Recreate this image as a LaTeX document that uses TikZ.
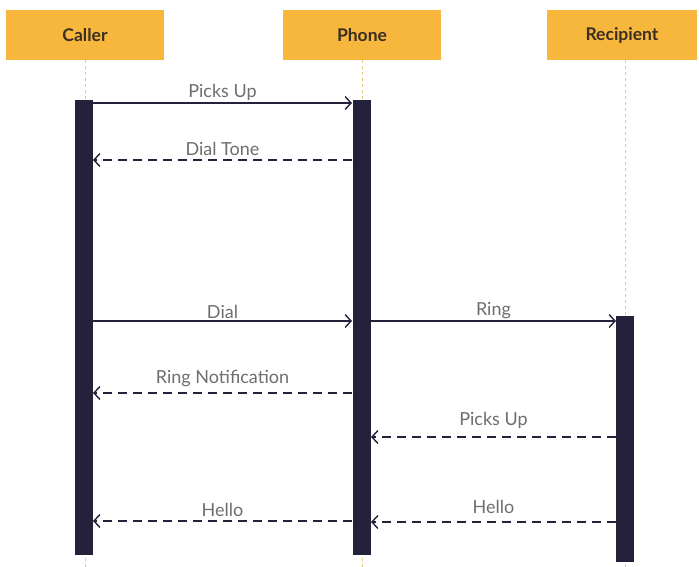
\documentclass[tikz,border=0pt]{standalone}
\usepackage{fontspec}
\setmainfont{Lato}
\usetikzlibrary{arrows.meta}
\definecolor{boxc}{HTML}{F6B73C}
\definecolor{barc}{HTML}{23223A}
\definecolor{lblc}{HTML}{6E6E6E}
\definecolor{lifec}{HTML}{E9C97A}
\begin{document}
\begin{tikzpicture}[x=1pt,y=-1pt,
  actor/.style={fill=boxc,draw=none,minimum width=158pt,minimum height=50pt,inner sep=0,
     font=\fontsize{17.5}{20}\selectfont\bfseries,text=barc!70!boxc!60!black},
  bar/.style={fill=barc,draw=none,inner sep=0,minimum width=18pt},
  lifeline/.style={draw=lifec,dashed,line width=0.8pt},
  msg/.style={draw=barc,line width=1.4pt,-{Straight Barb[length=6pt,width=13pt,line width=1.4pt]}},
  ret/.style={msg,dash pattern=on 9pt off 6pt},
  lbl/.style={font=\fontsize{18}{20}\selectfont,text=lblc,inner sep=1pt}]
\useasboundingbox (0,0) rectangle (699,567);
\fill[white] (0,0) rectangle (699,567);
% actors
\node[actor] (caller) at (85,35) {Caller};
\node[actor] (phone) at (362,35) {Phone};
\node[actor,minimum width=150pt] (recip) at (622,35) {Recipient};
% lifeline ends
\coordinate (ce) at (85,567);
\coordinate (pe) at (362,567);
\coordinate (re) at (625,567);
\draw[lifeline] (caller.south) -- (ce);
\draw[lifeline] (phone.south) -- (pe);
\draw[lifeline] (recip.south -| re) -- (re);
% activation bars
\node[bar,minimum height=455pt] (cb) at (84,327.5) {};
\node[bar,minimum height=455pt] (pb) at (361.5,327.5) {};
\node[bar,minimum height=246pt] (rb) at (625,439) {};
% messages
\coordinate (c1) at (93,103); \coordinate (p1) at (352,103);
\draw[msg] (c1) -- node[lbl,above=1pt] {Picks Up} (p1);
\coordinate (p2) at (352,160); \coordinate (c2) at (93,160);
\draw[ret] (p2) -- node[lbl,above=3pt] {Dial Tone} (c2);
\coordinate (c3) at (93,321); \coordinate (p3) at (352,321);
\draw[msg] (c3) -- node[lbl,above=1pt] {Dial} (p3);
\coordinate (p4) at (371,321); \coordinate (r4) at (616,321);
\draw[msg] (p4) -- node[lbl,above=1pt] {Ring} (r4);
\coordinate (p5) at (352,393); \coordinate (c5) at (93,393);
\draw[ret] (p5) -- node[lbl,above=5pt] {Ring Notification} (c5);
\coordinate (r6) at (616,437); \coordinate (p6) at (371,437);
\draw[ret] (r6) -- node[lbl,above=7pt] {Picks Up} (p6);
\coordinate (p7) at (352,521); \coordinate (c7) at (93,521);
\draw[ret] (p7) -- node[lbl,above=3pt] {Hello} (c7);
\coordinate (r8) at (616,522); \coordinate (p8) at (371,522);
\draw[ret] (r8) -- node[lbl,above=7pt] {Hello} (p8);
\end{tikzpicture}
\end{document}
